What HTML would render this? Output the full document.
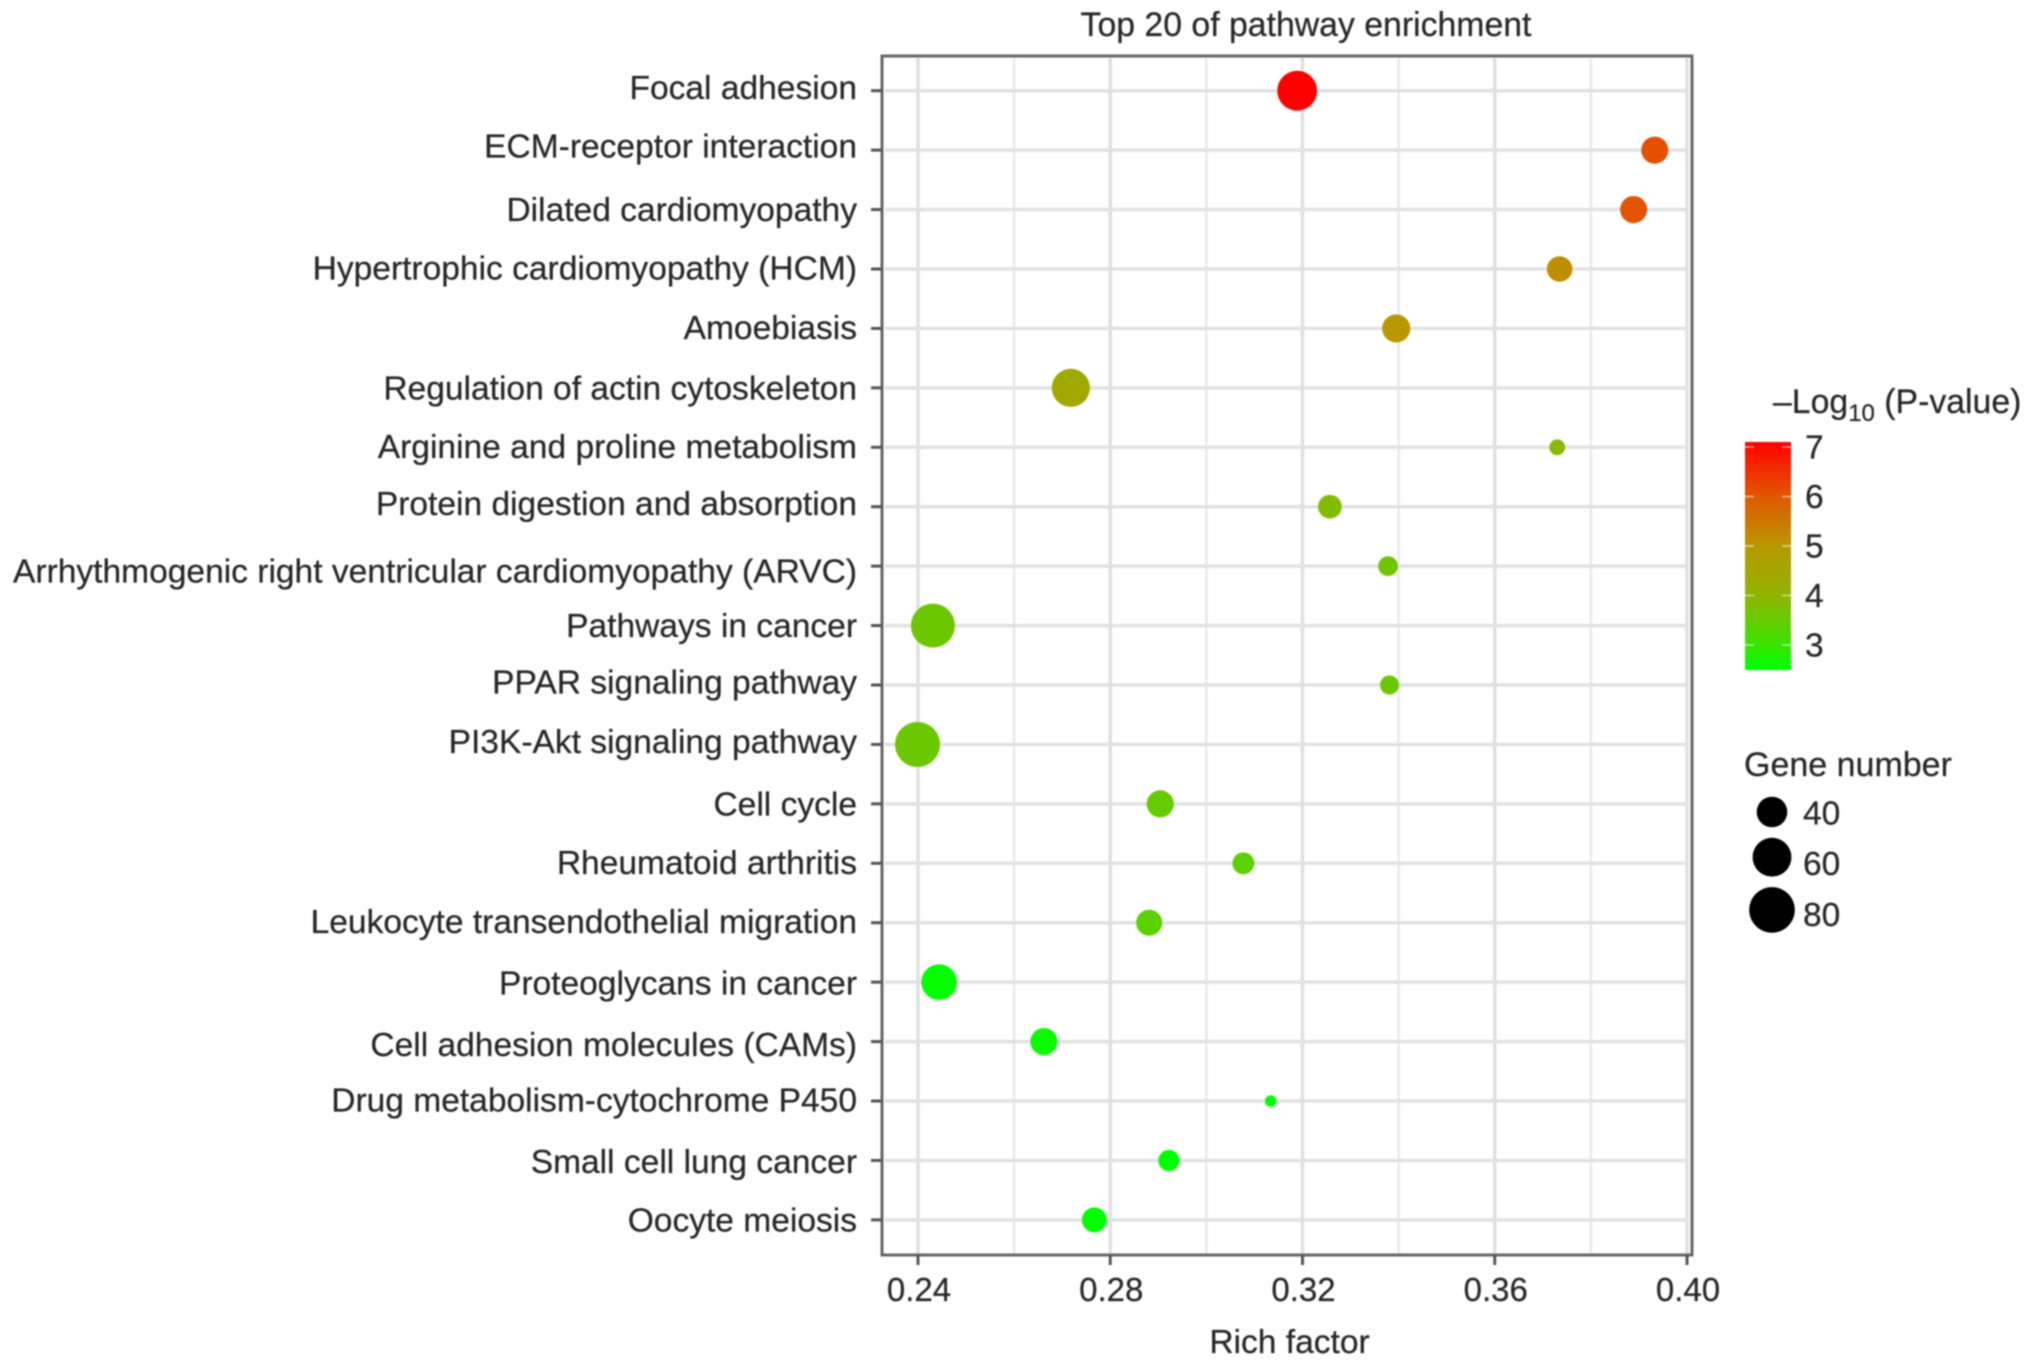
<!DOCTYPE html>
<html lang="en">
<head>
<meta charset="utf-8">
<title>Top 20 of pathway enrichment</title>
<style>
  html, body { margin: 0; padding: 0; background: #fff; width: 2032px; height: 1366px; overflow: hidden; }
  svg { display: block; filter: blur(0.8px); }
  text { font-family: "Liberation Sans", Arial, sans-serif; fill: #282828; stroke: #282828; stroke-width: 0.25px; font-size: 33.55px; }
</style>
</head>
<body>
<svg id="chart" xmlns="http://www.w3.org/2000/svg" width="2032" height="1366" viewBox="0 0 2032 1366">
  <defs>
    <linearGradient id="colorbar-gradient" x1="0" y1="1" x2="0" y2="0"></linearGradient>
  </defs>
  <rect x="0" y="0" width="2032" height="1366" fill="#ffffff"></rect>
  <text x="1306" y="36" text-anchor="middle" style="font-size:33.8px">Top 20 of pathway enrichment</text>
  <text x="1289.5" y="1353" text-anchor="middle">Rich factor</text>
  <g id="grid"></g>
  <g id="points"></g>
  <rect x="882" y="56" width="810" height="1199" fill="none" stroke="#666666" stroke-width="3"></rect>
  <g id="x-axis"></g>
  <g id="y-axis"></g>
  <g id="color-legend">
    <text x="1773" y="413" style="font-size:33.8px">–Log<tspan dy="8" font-size="24">10</tspan><tspan dy="-8"> (P-value)</tspan></text>
    <rect x="1745" y="442" width="46" height="228" fill="url(#colorbar-gradient)"></rect>
  </g>
  <g id="size-legend">
    <text x="1744" y="776" style="font-size:34px">Gene number</text>
  </g>
</svg>
<script>
const categories = [
  "Focal adhesion", "ECM-receptor interaction", "Dilated cardiomyopathy",
  "Hypertrophic cardiomyopathy (HCM)", "Amoebiasis", "Regulation of actin cytoskeleton",
  "Arginine and proline metabolism", "Protein digestion and absorption",
  "Arrhythmogenic right ventricular cardiomyopathy (ARVC)", "Pathways in cancer",
  "PPAR signaling pathway", "PI3K-Akt signaling pathway", "Cell cycle", "Rheumatoid arthritis",
  "Leukocyte transendothelial migration", "Proteoglycans in cancer",
  "Cell adhesion molecules (CAMs)", "Drug metabolism-cytochrome P450",
  "Small cell lung cancer", "Oocyte meiosis"
];
const richFactor = [
  0.3189, 0.3933, 0.3889, 0.3735, 0.3395, 0.2718, 0.3730, 0.3257, 0.3378, 0.2431,
  0.3381, 0.2399, 0.2904, 0.3077, 0.2881, 0.2444, 0.2662, 0.3134, 0.2922, 0.2767
];
const logP = [
  7.1, 6.1, 6.05, 5.17, 5.0, 4.43, 3.88, 3.85, 3.65, 3.6,
  3.6, 3.58, 3.5, 3.42, 3.4, 2.55, 2.6, 2.5, 2.5, 2.5
];
const geneNumber = [
  63, 33, 33, 30, 35, 58, 16, 27, 21, 75,
  20, 78, 33, 24, 31, 52, 33, 12, 23, 29
];
const xMajorTicks = [0.24, 0.28, 0.32, 0.36, 0.40];
const xMinorTicks = [0.26, 0.30, 0.34, 0.38];
const colorTicks = [7, 6, 5, 4, 3];
const colorDomain = [2.5, 7.1];
const sizeTicks = [40, 60, 80];

const SVG_NS = "http://www.w3.org/2000/svg";

// Axis and scale functions
function xScale(v) { return 918 + (v - 0.24) / 0.04 * 192.25; }
function yScale(i) { return 90.7 + i * 59.43; }
function colorbarY(v) { return 645 - (v - 3) * 49.5; }
function radiusScale(g) { return Math.sqrt(Math.max(4, 234 + 7.15 * (g - 40))); }

// Colour ramp (position along scale, r, g, b)
const ramp = [
  [0, 0, 255, 0],
  [0.109, 56, 228, 0],
  [0.326, 144, 180, 0],
  [0.543, 184, 152, 0],
  [0.76, 224, 88, 0],
  [1, 255, 0, 0]
];
function colorScale(v) {
  const t = Math.min(1, Math.max(0, (v - colorDomain[0]) / (colorDomain[1] - colorDomain[0])));
  let k = 0;
  while (k < ramp.length - 2 && t > ramp[k + 1][0]) k++;
  const a = ramp[k], b = ramp[k + 1];
  const f = (t - a[0]) / (b[0] - a[0]);
  const mix = function (n) { return Math.round(a[n] + (b[n] - a[n]) * f); };
  return "rgb(" + mix(1) + "," + mix(2) + "," + mix(3) + ")";
}

function make(tag, attrs, parent, textContent) {
  const el = document.createElementNS(SVG_NS, tag);
  for (const k in attrs) el.setAttribute(k, attrs[k]);
  if (textContent !== undefined) el.textContent = textContent;
  parent.appendChild(el);
  return el;
}

const gridG = document.getElementById("grid");
const pointsG = document.getElementById("points");
const xAxisG = document.getElementById("x-axis");
const yAxisG = document.getElementById("y-axis");
const colorLegendG = document.getElementById("color-legend");
const sizeLegendG = document.getElementById("size-legend");

// Small per-row label shifts seen in the reference (layout only)
const labelShift = { 0: -3, 1: -4, 3: -1, 4: -1, 6: -1, 7: -3, 8: 5, 10: -3, 11: -3, 13: -1, 14: -1, 15: 1, 16: 3, 17: -1, 18: 1 };

// Grid lines
xMinorTicks.forEach(function (t) {
  const line = make("line", { x1: xScale(t), x2: xScale(t), y1: 58, y2: 1254, stroke: "#e8e8e8", "stroke-width": 2.5 }, gridG);
  
  
});
xMajorTicks.forEach(function (t) {
  const line = make("line", { x1: xScale(t), x2: xScale(t), y1: 58, y2: 1254, stroke: "#e0e0e0", "stroke-width": 3.5 }, gridG);
  
  
});
categories.forEach(function (c, i) {
  const line = make("line", { x1: 885, x2: 1688, y1: yScale(i), y2: yScale(i), stroke: "#e2e2e2", "stroke-width": 3.5 }, gridG);
  
  
});

// X axis
xMajorTicks.forEach(function (t) {
  const tick = make("line", { x1: xScale(t), x2: xScale(t), y1: 1255, y2: 1265, stroke: "#555555", "stroke-width": 3 }, xAxisG);
  
  
  const label = make("text", { x: xScale(t) + 1, y: 1301, "text-anchor": "middle", style: "font-size:33px" }, xAxisG, t.toFixed(2));
  
  
});

// Y axis
categories.forEach(function (c, i) {
  const tick = make("line", { x1: 871, x2: 882, y1: yScale(i), y2: yScale(i), stroke: "#555555", "stroke-width": 3 }, yAxisG);
  
  
  const label = make("text", { x: 857, y: yScale(i) + 11.5 + (labelShift[i] || 0), "text-anchor": "end" }, yAxisG, c);
  
  
});

// Points
categories.forEach(function (c, i) {
  const dot = make("circle", { cx: xScale(richFactor[i]), cy: yScale(i), r: radiusScale(geneNumber[i]), fill: colorScale(logP[i]) }, pointsG);
  
  
});

// Colour legend
const gradient = document.getElementById("colorbar-gradient");
for (let s = 0; s <= 20; s++) {
  const stopValue = colorDomain[0] + (colorDomain[1] - colorDomain[0]) * s / 20;
  make("stop", { offset: (s * 5) + "%", "stop-color": colorScale(stopValue) }, gradient);
}
colorTicks.forEach(function (t) {
  const y = colorbarY(t);
  const left = make("line", { x1: 1745, x2: 1754, y1: y, y2: y, stroke: "#ffffff", "stroke-opacity": 0.6, "stroke-width": 1.5 }, colorLegendG);
  
  
  const right = make("line", { x1: 1782, x2: 1791, y1: y, y2: y, stroke: "#ffffff", "stroke-opacity": 0.6, "stroke-width": 1.5 }, colorLegendG);
  
  
  const label = make("text", { x: 1805, y: y + 11.5 }, colorLegendG, String(t));
  
  
});

// Size legend
let legendCy = 812;
sizeTicks.forEach(function (g, i) {
  const r = radiusScale(g);
  if (i > 0) legendCy += radiusScale(sizeTicks[i - 1]) + r + 10.5;
  const dot = make("circle", { cx: 1772, cy: legendCy, r: r, fill: "#000000" }, sizeLegendG);
  
  
  const label = make("text", { x: 1803, y: 824.5 + i * 50.7 }, sizeLegendG, String(g));
  
  
});
</script>
</body>
</html>
